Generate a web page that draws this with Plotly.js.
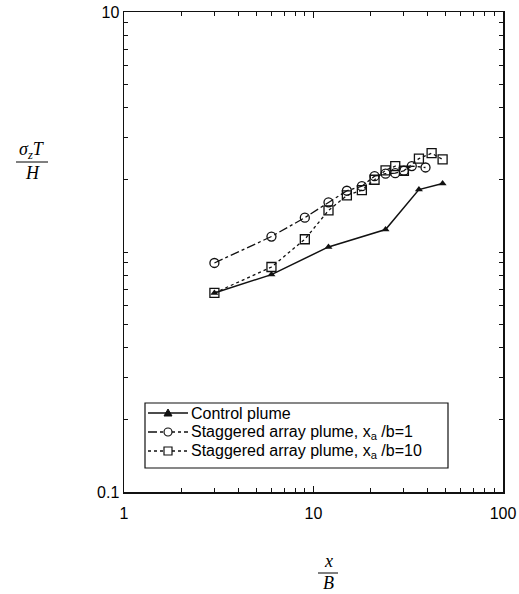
<!DOCTYPE html>
<html>
<head>
<meta charset="utf-8">
<script src="https://cdn.plot.ly/plotly-3.0.1.min.js"></script>
<style>
  html, body { margin: 0; padding: 0; background: #fff; }
  #chart { width: 519px; height: 594px; }
</style>
</head>
<body>
<div id="chart"></div>
<script>
// Vertical plume spread vs. downstream distance (log-log)
const controlX = [3, 6, 12, 24, 36, 48];
const controlY = [0.675, 0.805, 1.05, 1.24, 1.82, 1.93];

const stag1X = [3, 6, 9, 12, 15, 18, 21, 24, 27, 30, 33, 39];
const stag1Y = [0.90, 1.16, 1.39, 1.61, 1.80, 1.88, 2.07, 2.12, 2.13, 2.18, 2.28, 2.25];

const stag10X = [3, 6, 9, 12, 15, 18, 21, 24, 27, 30, 36, 42, 48];
const stag10Y = [0.675, 0.866, 1.13, 1.49, 1.72, 1.81, 2.00, 2.19, 2.28, 2.18, 2.45, 2.58, 2.43];

const seriesNames = [
  'Control plume',
  'Staggered array plume, x<sub>a</sub> /b=1',
  'Staggered array plume, x<sub>a</sub> /b=10'
];

const xMajor = [1, 10, 100];
const xMinor = [2,3,4,5,6,7,8,9,20,30,40,50,60,70,80,90];
const yMajor = [0.1, 10];
const yMinor = [0.2,0.3,0.4,0.5,0.6,0.7,0.8,0.9,1,2,3,4,5,6,7,8,9];

const ink = '#111';

// plot-area geometry (pixels) used to place the hand-built legend and fraction labels
const W = 519, H = 594;
const M = {l: 124, r: 16, t: 12, b: 102};
const plotW = W - M.l - M.r, plotH = H - M.t - M.b;
const px = X => (X - M.l) / plotW;
const py = Y => (H - M.b - Y) / plotH;

const styles = [
  {line: {color: ink, width: 1.5, dash: 'solid'},
   marker: {symbol: 'triangle-up', size: 7, color: ink}},
  {line: {color: ink, width: 1.3, dash: 'dashdot'},
   marker: {symbol: 'circle-open', size: 9, color: ink, line: {width: 1.3, color: ink}}},
  {line: {color: ink, width: 1.3, dash: 'dot'},
   marker: {symbol: 'square-open', size: 9, color: ink, line: {width: 1.3, color: ink}}}
];

const data = [[controlX, controlY], [stag1X, stag1Y], [stag10X, stag10Y]];
const traces = data.map((d, i) => ({
  x: d[0], y: d[1], name: seriesNames[i], mode: 'lines+markers',
  line: styles[i].line, marker: styles[i].marker, showlegend: false
}));

const axisCommon = {
  type: 'log',
  showgrid: false,
  zeroline: false,
  showline: true,
  linecolor: ink,
  linewidth: 1.5,
  mirror: 'ticks',
  ticks: 'inside',
  ticklen: 6,
  tickwidth: 1.2,
  tickcolor: ink,
  tickmode: 'array',
  tickfont: {family: 'Liberation Sans, Arial, sans-serif', size: 16, color: '#000'}
};
const minorCommon = {ticks: 'inside', ticklen: 4, tickwidth: 1, tickcolor: ink, showgrid: false};

const mathFont = {family: 'Liberation Serif, DejaVu Serif, serif', size: 18, color: '#000'};
const legendFont = {family: 'Liberation Sans, Arial, sans-serif', size: 16, color: '#000'};

const annotations = [
  {xref: 'paper', yref: 'paper', x: px(32), y: py(150), showarrow: false,
   text: '<i>σ<sub>z</sub>T</i>', font: mathFont, xanchor: 'center', yanchor: 'middle'},
  {xref: 'paper', yref: 'paper', x: px(32), y: py(173), showarrow: false,
   text: '<i>H</i>', font: mathFont, xanchor: 'center', yanchor: 'middle'},
  {xref: 'paper', yref: 'paper', x: px(328), y: py(561), showarrow: false,
   text: '<i>x</i>', font: mathFont, xanchor: 'center', yanchor: 'middle'},
  {xref: 'paper', yref: 'paper', x: px(328), y: py(583), showarrow: false,
   text: '<i>B</i>', font: mathFont, xanchor: 'center', yanchor: 'middle'}
];

const shapes = [
  {type: 'line', xref: 'paper', yref: 'paper', x0: px(16), x1: px(48), y0: py(162), y1: py(162),
   line: {color: '#000', width: 1}},
  {type: 'line', xref: 'paper', yref: 'paper', x0: px(318), x1: px(338), y0: py(573), y1: py(573),
   line: {color: '#000', width: 1}},
  // legend frame
  {type: 'rect', xref: 'paper', yref: 'paper', x0: px(145), x1: px(448), y0: py(403), y1: py(468),
   line: {color: ink, width: 1.2}, fillcolor: '#fff', layer: 'above'}
];

// legend rows: sample line, sample marker, label
const rowY = [413, 432, 451];
const sx0 = 148, sx1 = 188, sxm = 168, r = 4;
rowY.forEach((yy, i) => {
  shapes.push({type: 'line', xref: 'paper', yref: 'paper', layer: 'above',
    x0: px(sx0), x1: px(sx1), y0: py(yy), y1: py(yy),
    line: {color: ink, width: styles[i].line.width, dash: styles[i].line.dash}});
  if (i === 0) {
    shapes.push({type: 'path', xref: 'paper', yref: 'paper', layer: 'above',
      path: `M ${px(sxm - 4)} ${py(yy + 3)} L ${px(sxm + 4)} ${py(yy + 3)} L ${px(sxm)} ${py(yy - 4)} Z`,
      fillcolor: ink, line: {color: ink, width: 1}});
  } else {
    shapes.push({type: i === 1 ? 'circle' : 'rect', xref: 'paper', yref: 'paper', layer: 'above',
      x0: px(sxm - r), x1: px(sxm + r), y0: py(yy - r), y1: py(yy + r),
      fillcolor: '#fff', line: {color: ink, width: 1.2}});
  }
  annotations.push({xref: 'paper', yref: 'paper', x: px(189), y: py(yy), showarrow: false,
    text: seriesNames[i], font: legendFont, xanchor: 'left', yanchor: 'middle'});
});

const layout = {
  width: W,
  height: H,
  margin: M,
  paper_bgcolor: '#fff',
  plot_bgcolor: '#fff',
  showlegend: false,
  xaxis: Object.assign({}, axisCommon, {
    range: [0, 2], tickvals: xMajor, ticktext: xMajor.map(String), ticklabelstandoff: 6,
    minor: Object.assign({tickvals: xMinor}, minorCommon)
  }),
  yaxis: Object.assign({}, axisCommon, {
    range: [-1, 1], tickvals: yMajor, ticktext: yMajor.map(String),
    minor: Object.assign({tickvals: yMinor}, minorCommon)
  }),
  annotations: annotations,
  shapes: shapes
};

Plotly.newPlot('chart', traces, layout, {displayModeBar: false, staticPlot: true});
</script>
</body>
</html>
